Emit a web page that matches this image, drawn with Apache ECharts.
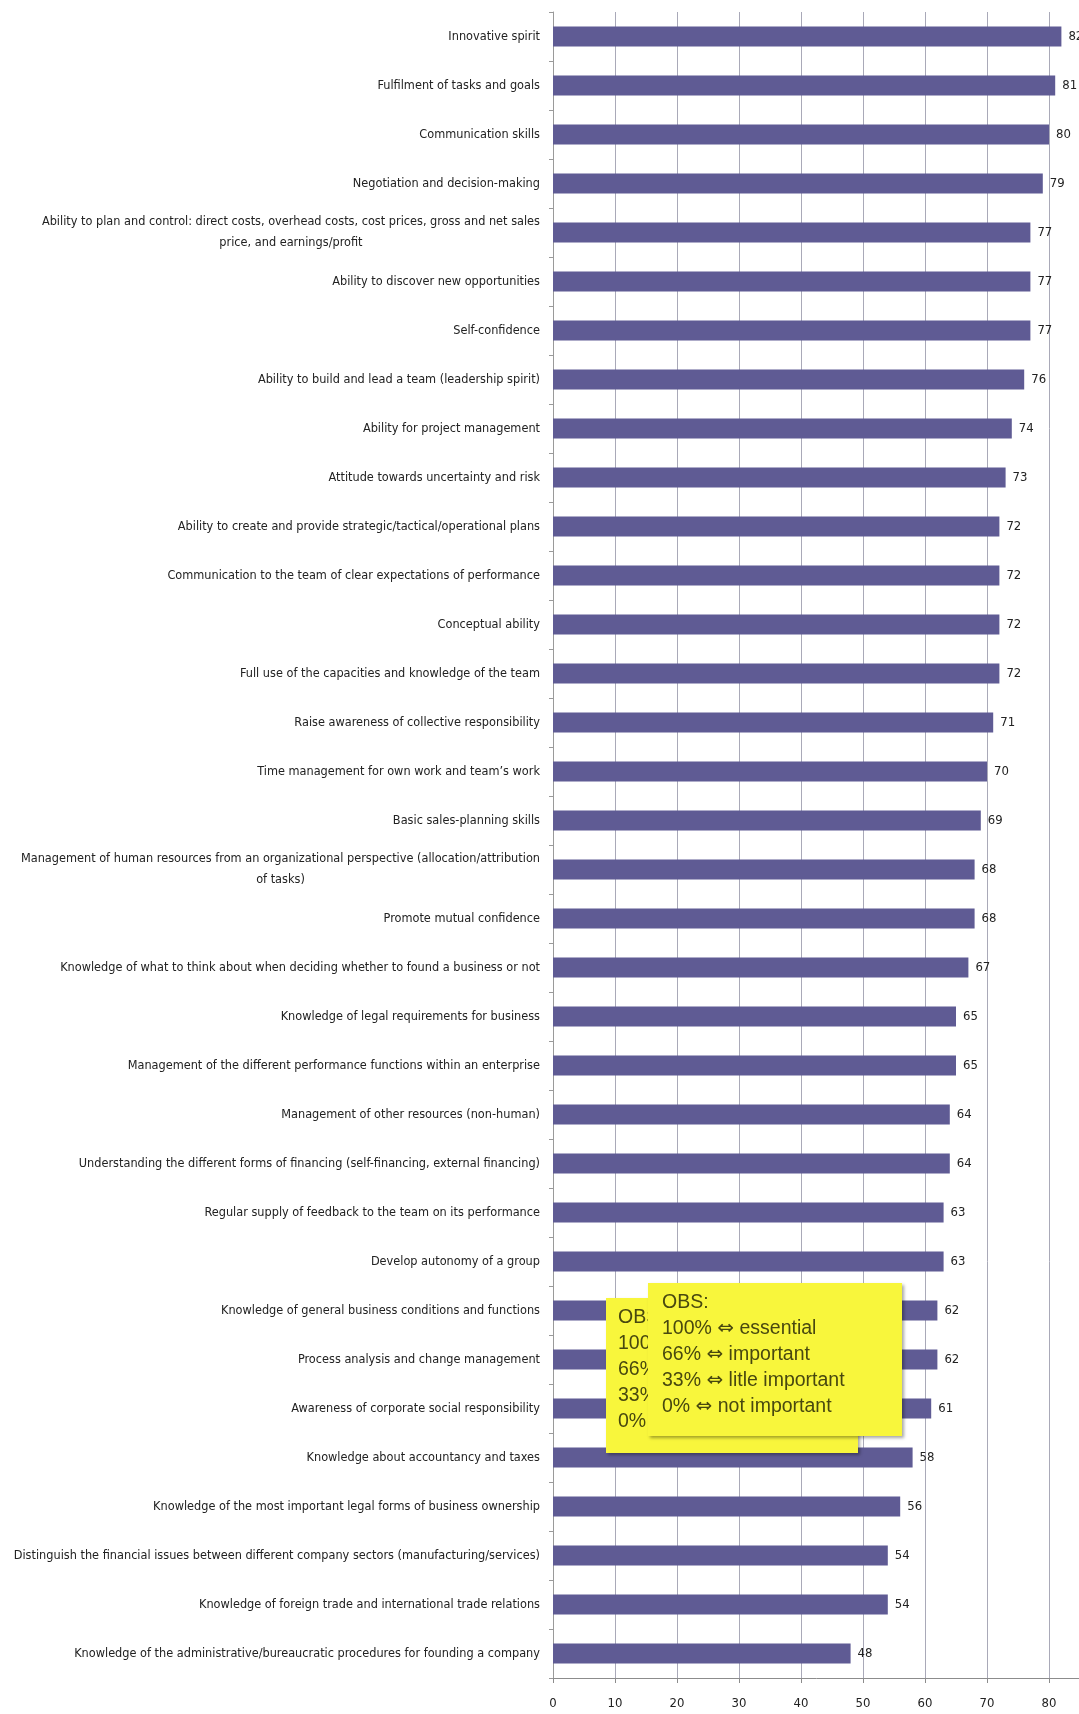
<!DOCTYPE html>
<html>
<head>
<meta charset="utf-8">
<script src="https://cdn.jsdelivr.net/npm/echarts@6/dist/echarts.min.js"></script>
<style>
  html, body { margin: 0; padding: 0; background: #ffffff; }
  #chart { width: 1079px; height: 1714px; }
</style>
</head>
<body>
<div id="chart"></div>
<script>
// Competences, listed top to bottom
const skills = [
  'Innovative spirit',
  'Fulfilment of tasks and goals',
  'Communication skills',
  'Negotiation and decision-making',
  'Ability to plan and control: direct costs, overhead costs, cost prices, gross and net sales\nprice, and earnings/profit',
  'Ability to discover new opportunities',
  'Self-confidence',
  'Ability to build and lead a team (leadership spirit)',
  'Ability for project management',
  'Attitude towards uncertainty and risk',
  'Ability to create and provide strategic/tactical/operational plans',
  'Communication to the team of clear expectations of performance',
  'Conceptual ability',
  'Full use of the capacities and knowledge of the team',
  'Raise awareness of collective responsibility',
  'Time management for own work and team\u2019s work',
  'Basic sales-planning skills',
  'Management of human resources from an organizational perspective (allocation/attribution\nof tasks)',
  'Promote mutual confidence',
  'Knowledge of what to think about when deciding whether to found a business or not',
  'Knowledge of legal requirements for business',
  'Management of the different performance functions within an enterprise',
  'Management of other resources (non-human)',
  'Understanding the different forms of financing (self-financing, external financing)',
  'Regular supply of feedback to the team on its performance',
  'Develop autonomy of a group',
  'Knowledge of general business conditions and functions',
  'Process analysis and change management',
  'Awareness of corporate social responsibility',
  'Knowledge about accountancy and taxes',
  'Knowledge of the most important legal forms of business ownership',
  'Distinguish the financial issues between different company sectors (manufacturing/services)',
  'Knowledge of foreign trade and international trade relations',
  'Knowledge of the administrative/bureaucratic procedures for founding a company'
];

// Importance score (%) per competence
const scores = [
  82, 81, 80, 79, 77, 77, 77, 76, 74, 73,
  72, 72, 72, 72, 71, 70, 69, 68, 68, 67,
  65, 65, 64, 64, 63, 63, 62, 62, 61, 58,
  56, 54, 54, 48
];

// Value axis range
const axisMin = 0;
const axisMax = 90;
const axisStep = 10;

// Scale note shown in the yellow boxes: [value, meaning]
const obsTitle = 'OBS:';
const obsScale = [
  ['100%', 'essential'],
  ['66%', 'important'],
  ['33%', 'litle important'],
  ['0%', 'not important']
];

const labelFont = "'Liberation Sans Narrow', 'DejaVu Sans Condensed', sans-serif";
const noteFont = "'Liberation Sans', Arial, sans-serif";
const noteText = '#48480f';
const noteFill = '#f8f63c';

function noteBox(x, y, w, h, tx, ty, lineH, z) {
  const els = [{
    type: 'rect',
    z: z,
    shape: { x: x, y: y, width: w, height: h },
    style: {
      fill: noteFill,
      shadowBlur: 3,
      shadowOffsetX: 2,
      shadowOffsetY: 2,
      shadowColor: 'rgba(0,0,0,0.35)'
    }
  }];
  const lines = [obsTitle].concat(obsScale.map(p => '{t|' + p[0] + ' }{a|\u21D4}{t| ' + p[1] + '}'));
  lines.forEach((t, i) => {
    els.push({
      type: 'text',
      z: z,
      x: tx,
      y: ty + i * lineH,
      style: {
        text: i === 0 ? '{t|' + t + '}' : t,
        fill: noteText,
        verticalAlign: 'middle',
        rich: {
          t: { fontSize: 19.5, fontFamily: noteFont, fill: noteText, color: noteText },
          a: { fontSize: 20, fontFamily: "'DejaVu Sans', sans-serif", fill: noteText, color: noteText }
        }
      }
    });
  });
  return els;
}

const chart = echarts.init(document.getElementById('chart'), null, { renderer: 'canvas' });

chart.setOption({
  animation: false,
  backgroundColor: '#ffffff',
  grid: {
    left: 553, right: -32, top: 12, bottom: 36,
    containLabel: false,
    outerBoundsMode: 'none'
  },
  xAxis: {
    type: 'value',
    min: axisMin,
    max: axisMax,
    interval: axisStep,
    axisLine: { show: true, lineStyle: { color: '#8c8c8c', width: 1 } },
    axisTick: { show: true, inside: false, length: 5, lineStyle: { color: '#8c8c8c' } },
    axisLabel: { margin: 19, fontSize: 13, color: '#222', fontFamily: labelFont },
    splitLine: { show: true, lineStyle: { color: '#a9a9b8', width: 1 } }
  },
  yAxis: {
    type: 'category',
    inverse: true,
    data: skills,
    axisLine: { show: true, lineStyle: { color: '#9a9a9a', width: 1 } },
    axisTick: { show: true, inside: false, length: 4, alignWithLabel: false, lineStyle: { color: '#9a9a9a' } },
    axisLabel: {
      margin: 13,
      align: 'right',
      formatter: v => v.split('\n').map(s => '{c|' + s + '}').join('\n'),
      rich: {
        c: { align: 'center', fontSize: 12.6, lineHeight: 21, color: '#222', fontFamily: labelFont }
      }
    },
    splitLine: { show: false }
  },
  series: [{
    type: 'bar',
    data: scores,
    barWidth: 20,
    itemStyle: { color: '#5f5b94' },
    label: {
      show: true,
      position: 'right',
      distance: 7,
      fontSize: 13,
      color: '#222',
      fontFamily: labelFont
    }
  }],
  graphic: [
    ...noteBox(606, 1298, 252, 155, 618, 1318, 26, 10),
    ...noteBox(648, 1283, 254, 153, 662, 1303, 26, 20)
  ]
});
</script>
</body>
</html>
